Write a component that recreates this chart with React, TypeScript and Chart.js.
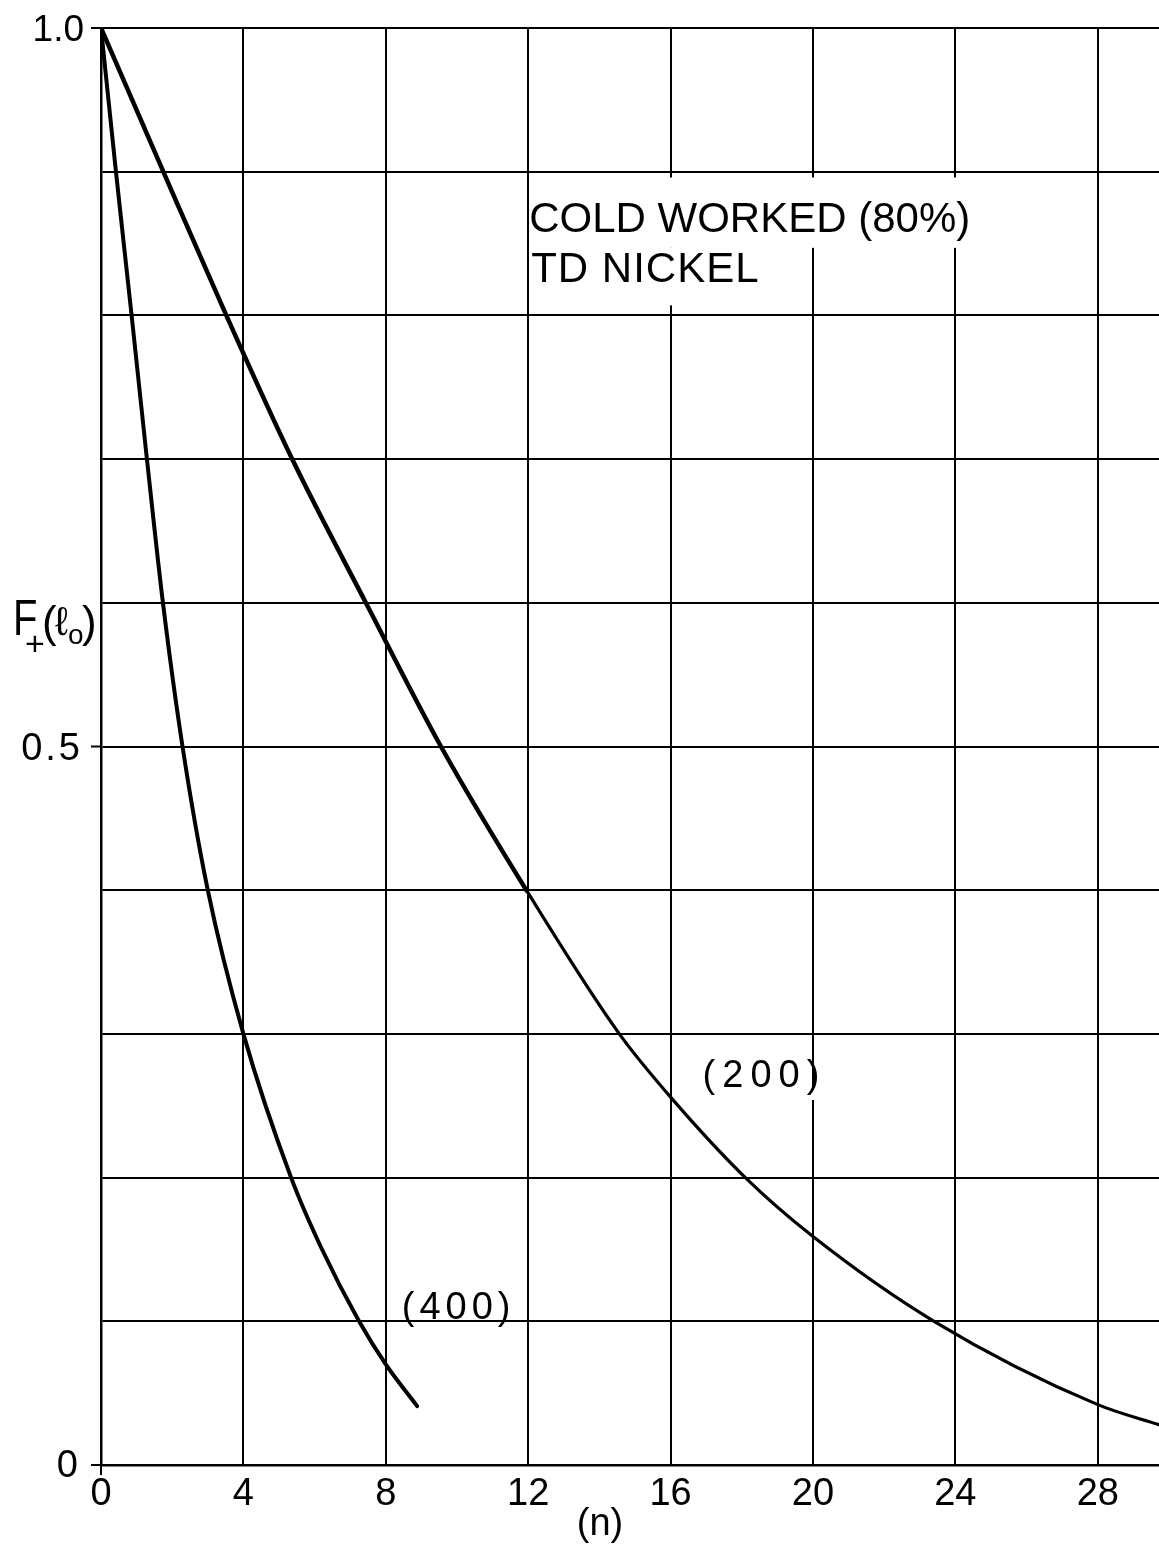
import React, { useEffect, useRef } from "react";
import { Chart, registerables } from "chart.js";

Chart.register(...registerables);

// ---- data ----
const n200 = [0, 1.75, 3.52, 5.37, 7.44, 9.55, 11.95, 14.56, 16, 18.1, 20, 23.4, 28, 29.72];
const f200 = [1.0, 0.9, 0.8, 0.7, 0.6, 0.5, 0.4, 0.3, 0.256, 0.2, 0.159, 0.1, 0.042, 0.028];

const n400 = [0, 0.42, 0.86, 1.29, 1.74, 2.29, 3.0, 4.0, 5.34, 6.19, 7.25, 8.0, 8.88];
const f400 = [1.0, 0.9, 0.8, 0.7, 0.6, 0.5, 0.4, 0.3, 0.2, 0.151, 0.1, 0.07, 0.041];

const xGridValues = [0, 4, 8, 12, 16, 20, 24, 28];
const xTickLabels = ["0", "4", "8", "12", "16", "20", "24", "28"];
const yGridValues = [0, 0.1, 0.2, 0.3, 0.4, 0.5, 0.6, 0.7, 0.8, 0.9, 1.0];
const yLabelValues = [1.0, 0.5, 0];
const yTickLabels = ["1.0", "0.5", "0"];
const xMin = 0;
const xMax = 29.72;
const yMin = 0;
const yMax = 1.0;

const annotationLines = ["COLD WORKED (80%)", "TD NICKEL"];
const curveLabels = ["(200)", "(400)"];
const xAxisTitle = "(n)";

const FONT = "'Liberation Sans', 'DejaVu Sans', Arial, sans-serif";

function txt(ctx: CanvasRenderingContext2D, s: string, x: number, y: number, size: number, sx = 1, spacing = 0) {
  ctx.save();
  ctx.font = `${size}px ${FONT}`;
  (ctx as any).letterSpacing = `${spacing}px`;
  ctx.translate(x, y);
  ctx.scale(sx, 1);
  ctx.fillText(s, 0, 0);
  ctx.restore();
}

const overlayPlugin = {
  id: "overlay",
  afterDraw(chart: any) {
    const ctx = chart.ctx as CanvasRenderingContext2D;
    const xs = chart.scales.x;
    const ys = chart.scales.y;
    const X = (v: number) => xs.getPixelForValue(v);
    const Y = (v: number) => ys.getPixelForValue(v);
    const x0 = X(0);
    const y0 = Y(0);
    ctx.save();

    // small protruding tick marks
    ctx.strokeStyle = "#000";
    ctx.lineWidth = 2;
    ctx.beginPath();
    yLabelValues.forEach((v) => {
      ctx.moveTo(x0 - 10, Y(v));
      ctx.lineTo(x0, Y(v));
    });
    ctx.moveTo(x0, y0);
    ctx.lineTo(x0, y0 + 10);
    ctx.stroke();

    // white patches behind annotation text
    ctx.fillStyle = "#fff";
    const ax = X(12) + 5;
    ctx.fillRect(ax, Y(0.896), X(24.6) - ax, Y(0.847) - Y(0.896));
    ctx.fillRect(ax, Y(0.847), X(18.5) - ax, Y(0.807) - Y(0.847));
    ctx.fillRect(X(19.8), Y(0.263), X(20.3) - X(19.8), Y(0.254) - Y(0.263));

    ctx.fillStyle = "#000";
    ctx.textAlign = "left";
    ctx.textBaseline = "alphabetic";

    // annotation
    txt(ctx, annotationLines[0], X(12) + 1, Y(0.858), 42);
    txt(ctx, annotationLines[1], X(12) + 3, Y(0.8235), 42, 1, 1);

    // curve labels
    txt(ctx, curveLabels[0], X(16.9), Y(0.263), 38, 1, 7);
    txt(ctx, curveLabels[1], X(8.45), Y(0.1) - 2, 38, 1, 5);

    // y tick labels
    ctx.textAlign = "right";
    ctx.textBaseline = "middle";
    txt(ctx, yTickLabels[0], x0 - 17, Y(yLabelValues[0]) + 3, 37);
    txt(ctx, yTickLabels[1], x0 - 18, Y(yLabelValues[1]) + 3, 38, 1, 3);
    txt(ctx, yTickLabels[2], x0 - 23, Y(yLabelValues[2]) + 2, 38);

    // x tick labels
    ctx.textAlign = "center";
    ctx.textBaseline = "alphabetic";
    xGridValues.forEach((v, i) => {
      txt(ctx, xTickLabels[i], X(v), y0 + 40, 38);
    });

    // x axis title
    txt(ctx, xAxisTitle, (X(0) + X(xMax)) / 2 - 30, y0 + 70, 38);

    // y axis title: F+(lo)
    ctx.textAlign = "left";
    const by = 635;
    txt(ctx, "F", 13, by, 50, 0.8);
    txt(ctx, "+", 25, by + 20, 34);
    txt(ctx, "(", 42, by + 2, 44);
    txt(ctx, "\u2113", 55, by, 40);
    txt(ctx, "o", 68, by + 9, 28);
    txt(ctx, ")", 82, by + 2, 44);

    ctx.restore();
  },
};

export default function App() {
  const ref = useRef<HTMLCanvasElement | null>(null);

  useEffect(() => {
    if (!ref.current) return;
    const chart = new Chart(ref.current, {
      type: "line",
      data: {
        datasets: [
          {
            label: curveLabels[0],
            data: n200.map((n, i) => ({ x: n, y: f200[i] })),
            borderColor: "#000",
            borderWidth: 3.5,
            segment: {
              borderWidth: (c: any) => (c.p0.parsed.x < 10 ? 4.5 : 3.2),
            },
            pointRadius: 0,
            fill: false,
            cubicInterpolationMode: "monotone",
            borderCapStyle: "round",
            borderJoinStyle: "round",
          },
          {
            label: curveLabels[1],
            data: n400.map((n, i) => ({ x: n, y: f400[i] })),
            borderColor: "#000",
            borderWidth: 4,
            pointRadius: 0,
            fill: false,
            cubicInterpolationMode: "monotone",
            borderCapStyle: "round",
            borderJoinStyle: "round",
          },
        ],
      },
      options: {
        animation: false,
        responsive: false,
        devicePixelRatio: 1,
        events: [],
        layout: { padding: { left: 101, top: 28, right: 0, bottom: 85 } },
        plugins: {
          legend: { display: false },
          tooltip: { enabled: false },
          title: { display: false },
        },
        scales: {
          x: {
            type: "linear",
            min: xMin,
            max: xMax,
            afterBuildTicks: (scale: any) => {
              scale.ticks = xGridValues.map((v) => ({ value: v }));
            },
            ticks: { display: false },
            grid: { color: "#000", lineWidth: 2, drawTicks: false },
            border: { display: true, color: "#000", width: 2.5 },
          },
          y: {
            type: "linear",
            min: yMin,
            max: yMax,
            afterBuildTicks: (scale: any) => {
              scale.ticks = yGridValues.map((v) => ({ value: v }));
            },
            ticks: { display: false },
            grid: { color: "#000", lineWidth: 2, drawTicks: false },
            border: { display: true, color: "#000", width: 2.5 },
          },
        },
      },
      plugins: [overlayPlugin],
    });
    return () => chart.destroy();
  }, []);

  return (
    <div style={{ position: "absolute", left: 0, top: 0, width: 1159, height: 1550, background: "#fff" }}>
      <canvas ref={ref} width={1159} height={1550} style={{ display: "block" }} />
    </div>
  );
}
